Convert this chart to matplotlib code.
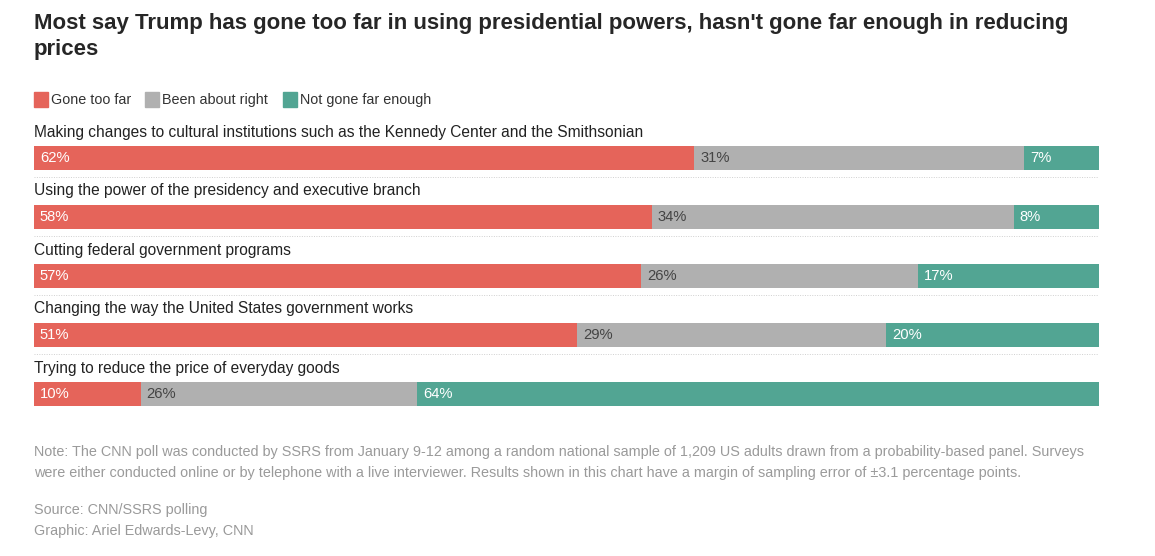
import matplotlib.pyplot as plt
from matplotlib.patches import Rectangle

plt.rcParams['font.family'] = ['Liberation Sans', 'DejaVu Sans']

# Data
questions = [
    'Making changes to cultural institutions such as the Kennedy Center and the Smithsonian',
    'Using the power of the presidency and executive branch',
    'Cutting federal government programs',
    'Changing the way the United States government works',
    'Trying to reduce the price of everyday goods',
]
too_far = [62, 58, 57, 51, 10]
about_right = [31, 34, 26, 29, 26]
not_enough = [7, 8, 17, 20, 64]
series_names = ['Gone too far', 'Been about right', 'Not gone far enough']
colors = ['#e5645a', '#b0b0b0', '#52a593']
label_colors = ['white', '#444444', 'white']

W, H = 1155, 556
fig = plt.figure(figsize=(W / 100, H / 100), dpi=100)

# axes spanning the bar area, in pixel terms
left, right = 34, 1099
top, bottom = 120, 412
ax = fig.add_axes([left / W, 1 - bottom / H, (right - left) / W, (bottom - top) / H])
row = 59.0
c0 = 158
ax.set_xlim(0, 100)
ax.set_ylim((bottom - c0) / row, (top - c0) / row)
ax.axis('off')

bar_h = 24 / row
ypos = list(range(len(questions)))
lefts = [0] * len(questions)
for vals, col, tcol in zip([too_far, about_right, not_enough], colors, label_colors):
    ax.barh(ypos, vals, left=lefts, height=bar_h, color=col, linewidth=0)
    for y, v, l in zip(ypos, vals, lefts):
        ax.text(l + 0.55, y, f'{v}%', color=tcol, fontsize=10.6, va='center', ha='left')
    lefts = [a + b for a, b in zip(lefts, vals)]

for y, q in zip(ypos, questions):
    ax.text(0, y - 26 / row, q, fontsize=11.2, color='#222222', va='center', ha='left')
    if y < len(questions) - 1:
        ax.plot([0, 100], [y + 19 / row, y + 19 / row], color='#d0d0d0', lw=0.7,
                linestyle=(0, (1, 1.5)))

# title
fig.text(34 / W, 1 - 23 / H, "Most say Trump has gone too far in using presidential powers, hasn't gone far enough in reducing",
         fontsize=16, fontweight='bold', color='#262626', va='center', ha='left')
fig.text(34 / W, 1 - 49 / H, 'prices', fontsize=16, fontweight='bold', color='#262626',
         va='center', ha='left')

# legend
lx = [34, 145, 283]
for x, name, col in zip(lx, series_names, colors):
    fig.patches.append(Rectangle((x / W, 1 - 107 / H), 14 / W, 15 / H, color=col,
                                 transform=fig.transFigure, figure=fig))
    fig.text((x + 17) / W, 1 - 100 / H, name, fontsize=10.4, color='#333333',
             va='center', ha='left')

note = ('Note: The CNN poll was conducted by SSRS from January 9-12 among a random national sample of 1,209 US adults drawn from a probability-based panel. Surveys\n'
        'were either conducted online or by telephone with a live interviewer. Results shown in this chart have a margin of sampling error of \u00b13.1 percentage points.')
fig.text(34 / W, 1 - 445 / H, note, fontsize=10.4, color='#9a9a9a', va='top', ha='left',
         linespacing=1.62)
fig.text(34 / W, 1 - 503 / H, 'Source: CNN/SSRS polling\nGraphic: Ariel Edwards-Levy, CNN',
         fontsize=10.4, color='#9a9a9a', va='top', ha='left', linespacing=1.62)

fig.savefig('out.png', dpi=100, facecolor='white')
